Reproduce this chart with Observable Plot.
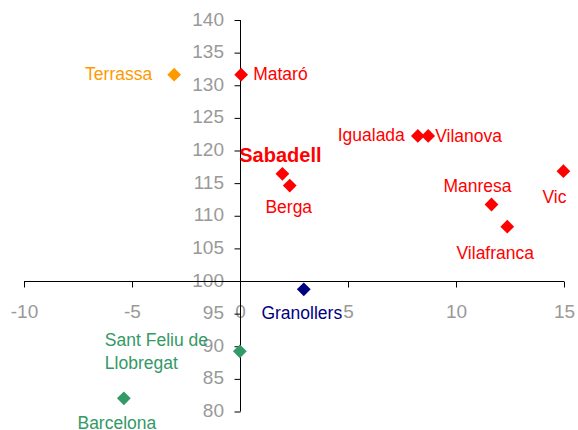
<!DOCTYPE html>
<html>
<head>
<meta charset="utf-8">
<script src="https://cdn.jsdelivr.net/npm/d3@7"></script>
<script src="https://cdn.jsdelivr.net/npm/@observablehq/plot@0.6"></script>
<style>
  html, body { margin: 0; padding: 0; background: #fff; }
  #chart svg { display: block; }
</style>
</head>
<body>
<div id="chart"></div>
<script>
// ---- Data ----
const cities = ["Terrassa", "Mataró", "Sabadell", "Berga", "Igualada", "Vilanova", "Vic", "Manresa", "Vilafranca", "Granollers", "Sant Feliu de\nLlobregat", "Barcelona"];
const xValues = [-3.07, 0.03, 1.94, 2.28, 8.21, 8.69, 14.95, 11.62, 12.35, 2.93, -0.03, -5.4];
const yValues = [131.7, 131.7, 116.5, 114.7, 122.3, 122.3, 116.9, 111.8, 108.4, 98.8, 89.3, 82.1];
const groups  = ["orange", "red", "red", "red", "red", "red", "red", "red", "red", "navy", "green", "green"];
const xTicks = [-10, -5, 0, 5, 10, 15];
const yTicks = [80, 85, 90, 95, 100, 105, 110, 115, 120, 125, 130, 135, 140];

// ---- Layout / style (not data) ----
const colorOf = {orange: "#FF9900", red: "#FF0000", navy: "#000080", green: "#339966"};
const labelPlacement = [
  {anchor: "end",    dx: -22, dy: -2},  // Terrassa
  {anchor: "start",  dx: 12,  dy: -2},  // Mataró
  {anchor: "middle", dx: -2,  dy: -20, bold: true}, // Sabadell
  {anchor: "middle", dx: -1,  dy: 20},  // Berga
  {anchor: "end",    dx: -13, dy: -2},  // Igualada
  {anchor: "start",  dx: 7,   dy: -1},  // Vilanova
  {anchor: "middle", dx: -9,  dy: 24},  // Vic
  {anchor: "middle", dx: -14, dy: -20}, // Manresa
  {anchor: "middle", dx: -12, dy: 25},  // Vilafranca
  {anchor: "middle", dx: -2,  dy: 22},  // Granollers
  {anchor: "start",  dx: -135, dy: -1}, // Sant Feliu
  {anchor: "middle", dx: -7,  dy: 23}   // Barcelona
];

const data = cities.map((name, i) => ({
  name, x: xValues[i], y: yValues[i], group: groups[i], ...labelPlacement[i]
}));

const tickDown = {draw(ctx) { ctx.moveTo(0, 0); ctx.lineTo(0, 6); }};
const tickLeft = {draw(ctx) { ctx.moveTo(0, 0); ctx.lineTo(-6, 0); }};

const font = "'Liberation Sans', Arial, sans-serif";

const labelMarks = data.map(d => Plot.text([d], {
  x: "x", y: "y", text: "name",
  dx: d.dx, dy: d.dy, textAnchor: d.anchor,
  fill: colorOf[d.group],
  fontSize: d.bold ? 20 : 17.5,
  fontWeight: d.bold ? "bold" : "normal",
  lineHeight: 1.3
}));

const chart = Plot.plot({
  width: 578,
  height: 430,
  marginLeft: 24,
  marginRight: 14,
  marginTop: 20,
  marginBottom: 18.5,
  style: {fontFamily: font, background: "#fff", overflow: "visible"},
  x: {domain: [-10, 15], axis: null},
  y: {domain: [80, 140], axis: null},
  marks: [
    // y tick labels
    Plot.text(yTicks, {x: 0, y: d => d, text: d => String(d), dx: -16.5, dy: -1, textAnchor: "end", fill: "#999", fontSize: 19}),
    // x tick labels
    Plot.text(xTicks, {x: d => d, y: 100, text: d => String(d), dy: 30, textAnchor: "middle", fill: "#999", fontSize: 19}),
    // axes
    Plot.ruleY([100], {x1: -10, x2: 15, stroke: "#000", strokeWidth: 1}),
    Plot.ruleX([0], {y1: 80, y2: 140, stroke: "#000", strokeWidth: 1}),
    Plot.dot(xTicks, {x: d => d, y: 100, symbol: tickDown, r: 3, stroke: "#000", fill: "none", strokeWidth: 1}),
    Plot.dot(yTicks, {x: 0, y: d => d, symbol: tickLeft, r: 3, stroke: "#000", fill: "none", strokeWidth: 1}),
    // points
    Plot.dot(data, {x: "x", y: "y", symbol: "diamond2", r: 6.2, fill: d => colorOf[d.group], stroke: "none"}),
    ...labelMarks
  ]
});

document.getElementById("chart").appendChild(chart);
</script>
</body>
</html>
